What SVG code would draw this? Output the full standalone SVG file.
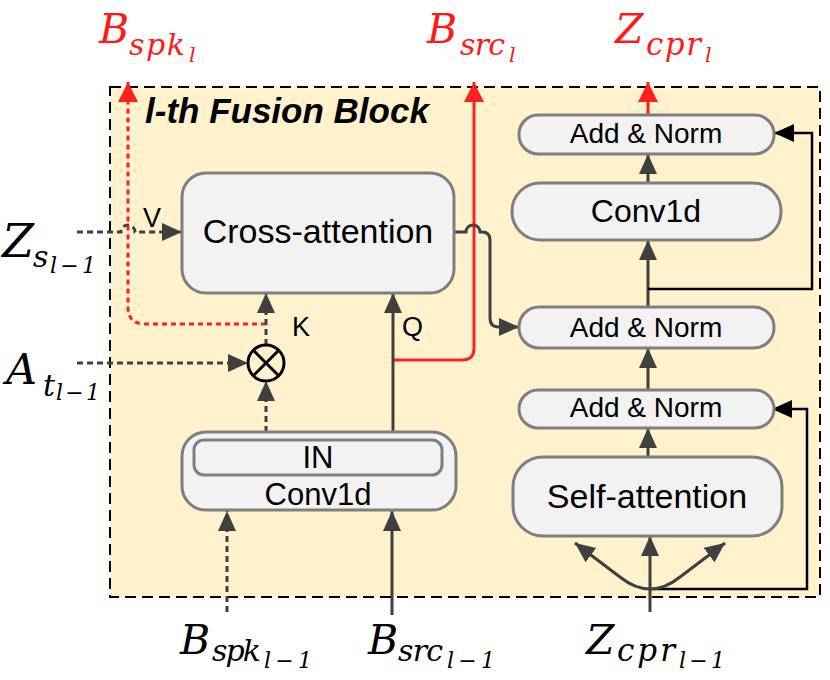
<svg xmlns="http://www.w3.org/2000/svg" width="830" height="680" viewBox="0 0 830 680">
<defs>
<style>
.box{fill:#F2F2F2;stroke:#7F7F7F;stroke-width:3}
.lbl{font-family:"Liberation Sans",Arial,sans-serif;fill:#000}
.math{font-family:"DejaVu Serif","Liberation Serif",serif;font-style:italic}
.red{fill:#FF1A1A}
.blk{fill:#000}
.ln{fill:none;stroke:#404040;stroke-width:3}
.dash{fill:none;stroke:#404040;stroke-width:3;stroke-dasharray:6 4}
.thin{fill:none;stroke:#000;stroke-width:2.5}
.rln{fill:none;stroke:#FF2020;stroke-width:3}
.rdash{fill:none;stroke:#FF2020;stroke-width:3;stroke-dasharray:5 4}
</style>
<marker id="ag" markerUnits="userSpaceOnUse" markerWidth="22" markerHeight="20" refX="20" refY="9" orient="auto"><path d="M0,0 L20,9 L0,18 Z" fill="#404040"/></marker>
<marker id="ab" markerUnits="userSpaceOnUse" markerWidth="22" markerHeight="20" refX="20" refY="9" orient="auto"><path d="M0,0 L20,9 L0,18 Z" fill="#000"/></marker>
<marker id="ar" markerUnits="userSpaceOnUse" markerWidth="22" markerHeight="22" refX="20" refY="10" orient="auto"><path d="M0,0 L20,10 L0,20 Z" fill="#FF2020"/></marker>
</defs>

<g id="frame">
<rect x="110" y="87" width="710" height="510" fill="#FFF2CC" stroke="#000" stroke-width="2" stroke-dasharray="11 6"/>
<text class="lbl" x="145" y="123" font-size="35" font-weight="bold" font-style="italic">l-th Fusion Block</text>
</g>

<g id="connectors">
<path class="rdash" d="M266,324 H145 Q128,324 128,307 V82" marker-end="url(#ar)"/>
<path class="rln" d="M393,360 H462 Q474,360 474,348 V82" marker-end="url(#ar)"/>
<path class="rln" d="M648,115 V82" marker-end="url(#ar)"/>
<path class="dash" d="M77,232 H121 A7,7 0 0 1 135,232 H182" marker-end="url(#ag)"/>
<path class="dash" d="M77,363 H248" marker-end="url(#ag)"/>
<path class="dash" d="M266,345 V293" marker-end="url(#ag)"/>
<path class="dash" d="M266,432 V381" marker-end="url(#ag)"/>
<path class="ln" d="M393,432 V293" marker-end="url(#ag)"/>
<path class="dash" d="M227,612 V511" marker-end="url(#ag)"/>
<path class="ln" d="M392,615 V511" marker-end="url(#ag)"/>
<path class="ln" d="M454,232 H466 A7,7 0 0 1 480,232 H482 Q490,232 490,240 V318 Q490,327 499,327 H519" marker-end="url(#ag)"/>
<path class="ln" d="M648,183 V154" marker-end="url(#ag)"/>
<path class="ln" d="M648,307 V240" marker-end="url(#ag)"/>
<path class="ln" d="M648,390 V348" marker-end="url(#ag)"/>
<path class="ln" d="M648,457 V428" marker-end="url(#ag)"/>
<path class="thin" d="M648,289 H812 V133 H774" marker-end="url(#ab)"/>
<path class="thin" d="M650,589 H807 V409 H772" marker-end="url(#ab)"/>
<path class="ln" d="M650,612 V536" marker-end="url(#ag)"/>
<path class="ln" d="M650,589 Q635,589 620,577 L575,543" marker-end="url(#ag)"/>
<path class="ln" d="M650,589 Q665,589 680,577 L725,543" marker-end="url(#ag)"/>
</g>

<g id="cross-attention">
<rect class="box" x="182" y="173" width="272" height="120" rx="24"/>
<text class="lbl" x="318" y="243" font-size="34" text-anchor="middle">Cross-attention</text>
</g>

<g id="multiply">
<circle cx="266" cy="363" r="18" fill="none" stroke="#000" stroke-width="3"/>
<path d="M253.3,350.3 L278.7,375.7 M278.7,350.3 L253.3,375.7" stroke="#000" stroke-width="3"/>
</g>

<g id="in-conv1d">
<rect class="box" x="182" y="432" width="274" height="78" rx="24"/>
<rect class="box" x="194" y="440" width="248" height="35" rx="10"/>
<text class="lbl" x="318" y="468" font-size="31" text-anchor="middle">IN</text>
<text class="lbl" x="318" y="505" font-size="31" text-anchor="middle">Conv1d</text>
</g>

<g id="addnorm-top">
<rect class="box" x="519" y="115" width="255" height="39" rx="19"/>
<text class="lbl" x="646" y="143" font-size="28" text-anchor="middle">Add &amp; Norm</text>
</g>

<g id="conv1d">
<rect class="box" x="512" y="183" width="269" height="57" rx="28"/>
<text class="lbl" x="646" y="222" font-size="32" text-anchor="middle">Conv1d</text>
</g>

<g id="addnorm-mid">
<rect class="box" x="519" y="307" width="255" height="41" rx="20"/>
<text class="lbl" x="646" y="337" font-size="28" text-anchor="middle">Add &amp; Norm</text>
</g>

<g id="addnorm-bot">
<rect class="box" x="519" y="390" width="255" height="38" rx="19"/>
<text class="lbl" x="646" y="417" font-size="28" text-anchor="middle">Add &amp; Norm</text>
</g>

<g id="self-attention">
<rect class="box" x="513" y="457" width="269" height="79" rx="30"/>
<text class="lbl" x="647" y="508" font-size="34" text-anchor="middle">Self-attention</text>
</g>

<g id="port-labels">
<text class="lbl" x="143" y="227" font-size="27">V</text>
<text class="lbl" x="292" y="336" font-size="27">K</text>
<text class="lbl" x="402" y="336" font-size="27">Q</text>
</g>

<g id="out-labels">
<text class="math red" x="99" y="43" font-size="41">B</text>
<text class="math red" x="129" y="55" font-size="30" textLength="56" lengthAdjust="spacing">spk</text>
<text class="math red" x="189" y="62" font-size="21">l</text>
<text class="math red" x="427" y="43" font-size="41">B</text>
<text class="math red" x="460" y="55" font-size="30" textLength="45" lengthAdjust="spacing">src</text>
<text class="math red" x="509" y="62" font-size="21">l</text>
<text class="math red" x="615" y="43" font-size="41">Z</text>
<text class="math red" x="646" y="55" font-size="31" textLength="55" lengthAdjust="spacing">cpr</text>
<text class="math red" x="705" y="62" font-size="21">l</text>
</g>

<g id="in-labels">
<text class="math blk" x="2" y="257" font-size="46">Z</text>
<text class="math blk" x="33" y="267" font-size="30">s</text>
<text class="math blk" x="50" y="273" font-size="22" textLength="46" lengthAdjust="spacing">l−1</text>
<text class="math blk" x="6" y="384" font-size="43">A</text>
<text class="math blk" x="43" y="396" font-size="30">t</text>
<text class="math blk" x="56" y="400" font-size="22" textLength="44" lengthAdjust="spacing">l−1</text>
<text class="math blk" x="180" y="654" font-size="41">B</text>
<text class="math blk" x="212" y="661" font-size="30" textLength="49" lengthAdjust="spacing">spk</text>
<text class="math blk" x="264" y="668" font-size="22" textLength="48" lengthAdjust="spacing">l−1</text>
<text class="math blk" x="368" y="654" font-size="41">B</text>
<text class="math blk" x="398" y="661" font-size="30" textLength="45" lengthAdjust="spacing">src</text>
<text class="math blk" x="447" y="668" font-size="22" textLength="48" lengthAdjust="spacing">l−1</text>
<text class="math blk" x="586" y="654" font-size="41">Z</text>
<text class="math blk" x="617" y="661" font-size="31" textLength="58" lengthAdjust="spacing">cpr</text>
<text class="math blk" x="679" y="668" font-size="22" textLength="46" lengthAdjust="spacing">l−1</text>
</g>
</svg>
